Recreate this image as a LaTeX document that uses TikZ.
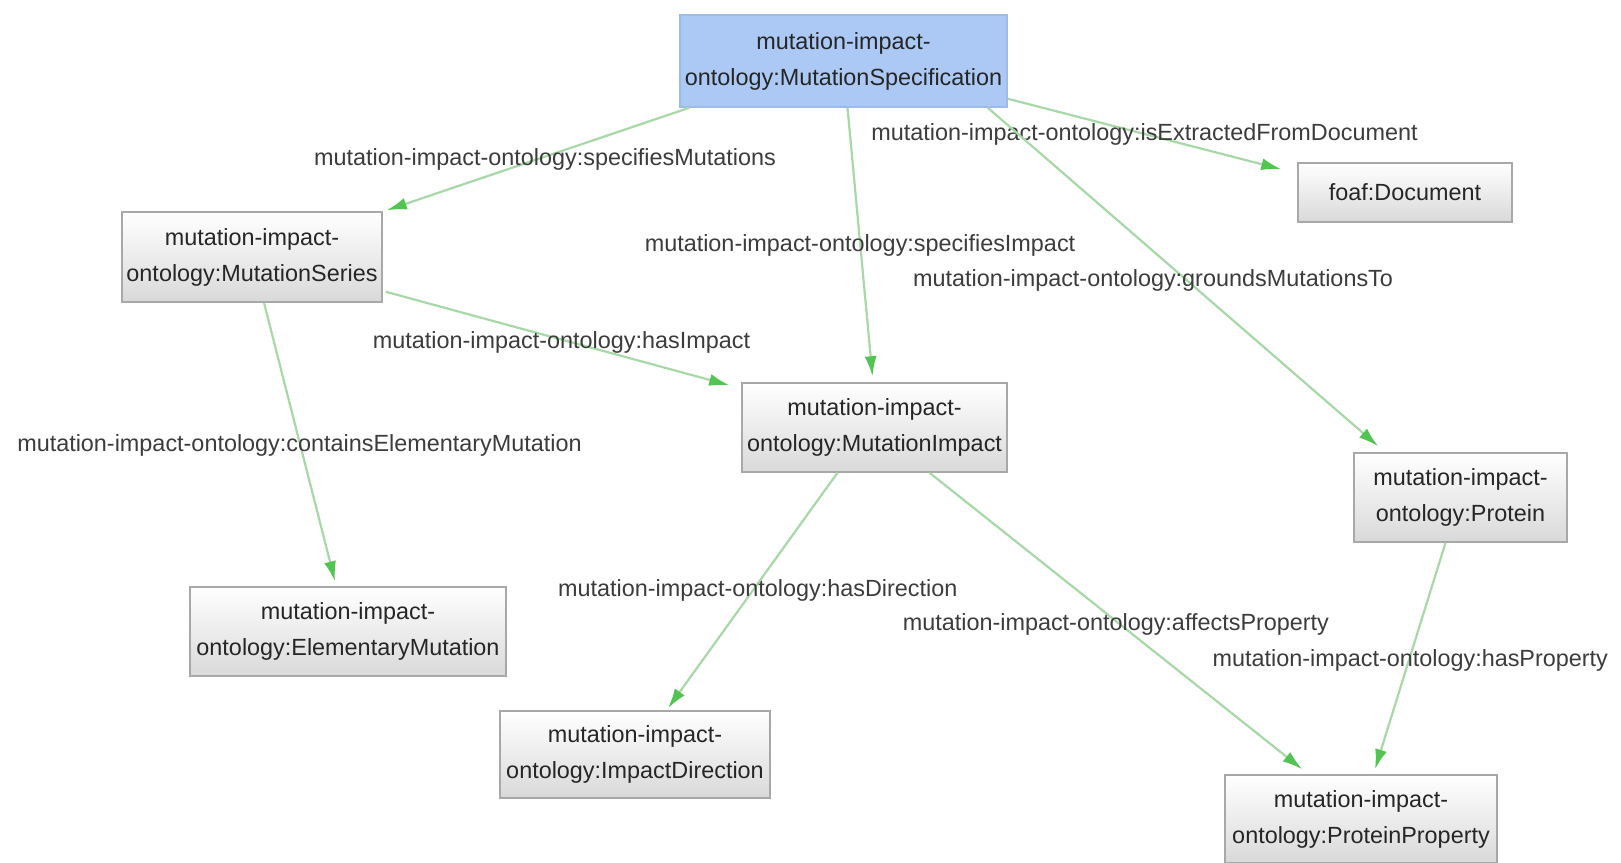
\documentclass[tikz,border=0pt]{standalone}
\usepackage{fontspec}
\setmainfont{Liberation Sans}
\usetikzlibrary{calc,arrows.meta}
\definecolor{edgegreen}{HTML}{A8D8A8}
\definecolor{tipgreen}{HTML}{52C452}
\definecolor{boxgray}{HTML}{A8A8A8}
\definecolor{boxbottom}{HTML}{D9D9D9}
\definecolor{selblue}{HTML}{ABC9F4}
\definecolor{selborder}{HTML}{9CBBE6}
\definecolor{textdark}{HTML}{262626}
\definecolor{labelgray}{HTML}{3C3C3C}
\begin{document}
\begin{tikzpicture}[x=0.5pt,y=-0.5pt,
  cls/.style={draw=boxgray, line width=0.75pt, top color=white, bottom color=boxbottom,
    text=textdark, align=center, inner sep=0pt,
    font=\fontsize{11.7pt}{18pt}\selectfont},
  selcls/.style={cls, draw=selborder, top color=selblue, bottom color=selblue},
  rel/.style={draw=edgegreen, line width=1.1pt,
    -{Latex[length=10pt,width=6pt,color=tipgreen]}},
  lbl/.style={text=labelgray, inner sep=0pt, font=\fontsize{11.7pt}{14pt}\selectfont}]

% page
\fill[white] (0,0) rectangle (1621,862);
\useasboundingbox (0,0) rectangle (1621,862);

% classes
\node[selcls, minimum width=163.5pt, minimum height=46pt] (spec) at (843.5,61)
  {mutation-impact-\\ontology:MutationSpecification};
\node[cls, minimum width=130pt, minimum height=45pt] (series) at (252,257)
  {mutation-impact-\\ontology:MutationSeries};
\node[cls, minimum width=107pt, minimum height=29.5pt] (doc) at (1405,192.5)
  {foaf:Document};
\node[cls, minimum width=132.5pt, minimum height=44.5pt] (impact) at (874.5,427.5)
  {mutation-impact-\\ontology:MutationImpact};
\node[cls, minimum width=106.5pt, minimum height=44.5pt] (protein) at (1460.5,497.5)
  {mutation-impact-\\ontology:Protein};
\node[cls, minimum width=158pt, minimum height=44.5pt] (elem) at (348,631.5)
  {mutation-impact-\\ontology:ElementaryMutation};
\node[cls, minimum width=135pt, minimum height=43.5pt] (dir) at (635,754.5)
  {mutation-impact-\\ontology:ImpactDirection};
\node[cls, minimum width=136pt, minimum height=44pt] (prop) at (1361,819)
  {mutation-impact-\\ontology:ProteinProperty};

% properties
\draw[rel] ($(spec.south west)+(10,0)$) -- ($(series.north east)+(4,-1)$)
  node[lbl, pos=0.5, xshift=3.5pt] {mutation-impact-ontology:specifiesMutations};
\draw[rel] ($(spec.south east)+(0,-9)$) -- ($(doc.north west)+(-16,7)$)
  node[lbl, pos=0.5] {mutation-impact-ontology:isExtractedFromDocument};
\draw[rel] ($(spec.south)+(4,0)$) -- ($(impact.north)+(-2,-6)$)
  node[lbl, pos=0.5, yshift=-1.5pt] {mutation-impact-ontology:specifiesImpact};
\draw[rel] ($(spec.south east)+(-20,0)$) -- ($(protein.north west)+(25,-6)$)
  node[lbl, pos=0.5, xshift=-15pt, yshift=-1.5pt] {mutation-impact-ontology:groundsMutationsTo};
\draw[rel] ($(series.south east)+(3,-11)$) -- ($(impact.north west)+(-12,3)$)
  node[lbl, pos=0.5, xshift=2pt, yshift=-2pt] {mutation-impact-ontology:hasImpact};
\draw[rel] ($(series.south)+(12,0)$) -- ($(elem.north)+(-13,-5)$)
  node[lbl, pos=0.5, yshift=-1.5pt] {mutation-impact-ontology:containsElementaryMutation};
\draw[rel] ($(impact.south)+(-37,0)$) -- ($(dir.north)+(33,-2)$)
  node[lbl, pos=0.5, xshift=2.5pt] {mutation-impact-ontology:hasDirection};
\draw[rel] ($(impact.south)+(55,0)$) -- ($(prop.north west)+(78,-5)$)
  node[lbl, pos=0.5, yshift=-1.5pt] {mutation-impact-ontology:affectsProperty};
\draw[rel] ($(protein.south)+(-15,0)$) -- ($(prop.north)+(14,-5)$)
  node[lbl, pos=0.5, yshift=-2pt] {mutation-impact-ontology:hasProperty};
\end{tikzpicture}
\end{document}
